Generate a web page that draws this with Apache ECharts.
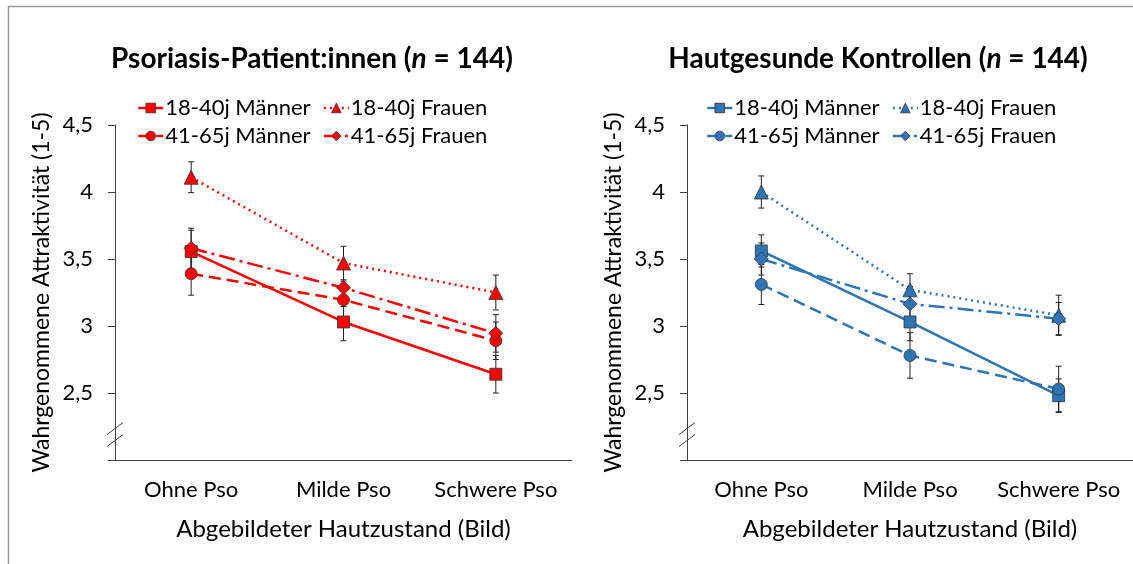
<!DOCTYPE html>
<html>
<head>
<meta charset="utf-8">
<script src="https://cdn.jsdelivr.net/npm/echarts@6/dist/echarts.min.js"></script>
<style>
  html, body { margin: 0; padding: 0; background: #fff; }
  #chart { width: 1133px; height: 564px; }
</style>
</head>
<body>
<div id="chart"></div>
<script>
const categories = ["Ohne Pso", "Milde Pso", "Schwere Pso"];
const groupNames = ["18-40j Männer", "18-40j Frauen", "41-65j Männer", "41-65j Frauen"];

// Psoriasis-Patient:innen: Mittelwerte und Fehlerbalken (halbe Länge)
const psoM18 = [3.555, 3.03, 2.64];
const psoF18 = [4.11, 3.47, 3.25];
const psoM41 = [3.39, 3.195, 2.89];
const psoF41 = [3.58, 3.285, 2.945];
const psoErrM18 = [0.16, 0.14, 0.14];
const psoErrF18 = [0.115, 0.125, 0.13];
const psoErrM41 = [0.16, 0.14, 0.14];
const psoErrF41 = [0.15, 0.14, 0.14];

// Hautgesunde Kontrollen
const ctlM18 = [3.56, 3.03, 2.48];
const ctlF18 = [4.0, 3.27, 3.08];
const ctlM41 = [3.31, 2.78, 2.53];
const ctlF41 = [3.5, 3.165, 3.055];
const ctlErrM18 = [0.12, 0.14, 0.125];
const ctlErrF18 = [0.12, 0.12, 0.15];
const ctlErrM41 = [0.15, 0.17, 0.17];
const ctlErrF41 = [0.12, 0.13, 0.12];

const yTicks = [2, 2.5, 3, 3.5, 4, 4.5];

const font = "Lato";
const red = "#ff0000";
const blue = "#2e75b6";
const axisColor = "#404040";

const symbols = ["rect", "triangle", "circle", "diamond"];
const symbolSizes = [12, 14, 12, 14];
const lineTypes = ["solid", [2, 4], [12, 6], [16, 5, 3, 5]];

const grids = [
  { left: 115, top: 125, width: 457, height: 335 },
  { left: 687, top: 125, width: 451, height: 335 }
];

function makeXAxis(i) {
  return {
    type: "category",
    gridIndex: i,
    data: categories,
    name: "Abgebildeter Hautzustand (Bild)",
    nameLocation: "middle",
    nameGap: 57,
    nameTextStyle: { fontFamily: font, fontSize: 24, color: "#000" },
    axisLine: { lineStyle: { color: axisColor, width: 1 } },
    axisTick: { length: 7, lineStyle: { color: axisColor } },
    axisLabel: { interval: 0, fontFamily: font, fontSize: 22, color: "#000", margin: 19 }
  };
}

function makeYAxis(i) {
  return {
    type: "value",
    gridIndex: i,
    min: yTicks[0],
    max: yTicks[yTicks.length - 1],
    interval: 0.5,
    name: "Wahrgenommene Attraktivität (1-5)",
    nameLocation: "middle",
    nameGap: 62,
    nameTextStyle: { fontFamily: font, fontSize: 23, color: "#000" },
    splitLine: { show: false },
    axisLine: { show: true, lineStyle: { color: axisColor, width: 1 } },
    axisTick: { show: true, length: 7, lineStyle: { color: axisColor } },
    axisLabel: {
      fontFamily: font,
      fontSize: 22,
      color: "#000",
      margin: 22,
      formatter: function (v) {
        return v === yTicks[0] ? "" : String(v).replace(".", ",");
      }
    }
  };
}

function errorSeries(i, means, errs) {
  return {
    type: "custom",
    xAxisIndex: i,
    yAxisIndex: i,
    z: 1,
    silent: true,
    encode: { x: 0, y: [1, 2] },
    data: means.map(function (m, k) {
      return [k, m - errs[k], m + errs[k]];
    }),
    renderItem: function (params, api) {
      const lo = api.coord([api.value(0), api.value(1)]);
      const hi = api.coord([api.value(0), api.value(2)]);
      const cap = 3;
      const style = { stroke: "#222", lineWidth: 1 };
      return {
        type: "group",
        children: [
          { type: "line", shape: { x1: lo[0], y1: lo[1], x2: hi[0], y2: hi[1] }, style: style },
          { type: "line", shape: { x1: lo[0] - cap, y1: lo[1], x2: lo[0] + cap, y2: lo[1] }, style: style },
          { type: "line", shape: { x1: hi[0] - cap, y1: hi[1], x2: hi[0] + cap, y2: hi[1] }, style: style }
        ]
      };
    }
  };
}

function lineSeries(i, k, means, color) {
  return {
    name: groupNames[k],
    type: "line",
    xAxisIndex: i,
    yAxisIndex: i,
    z: 3,
    data: means,
    symbol: symbols[k],
    symbolSize: symbolSizes[k],
    showAllSymbol: true,
    lineStyle: { color: color, width: 2.5, type: lineTypes[k] },
    itemStyle: { color: color, borderColor: "#333", borderWidth: 0.8 },
    emphasis: { disabled: true }
  };
}

const panels = [
  { means: [psoM18, psoF18, psoM41, psoF41], errs: [psoErrM18, psoErrF18, psoErrM41, psoErrF41], color: red },
  { means: [ctlM18, ctlF18, ctlM41, ctlF41], errs: [ctlErrM18, ctlErrF18, ctlErrM41, ctlErrF41], color: blue }
];

const series = [];
panels.forEach(function (p, i) {
  p.means.forEach(function (m, k) {
    series.push(errorSeries(i, m, p.errs[k]));
  });
  p.means.forEach(function (m, k) {
    series.push(lineSeries(i, k, m, p.color));
  });
});

// zwei Legendenzeilen je Tafel; Farbe/Linie pro Eintrag aus der Tafel
function legendRow(p, left, top, names) {
  return {
    left: left,
    top: top,
    orient: "horizontal",
    itemWidth: 25,
    itemHeight: 12,
    itemGap: 12,
    selectedMode: false,
    textStyle: { fontFamily: font, fontSize: 22, color: "#000", padding: [0, 0, 0, -3] },
    data: names.map(function (n) {
      const k = groupNames.indexOf(n);
      return {
        name: n,
        itemStyle: { color: p.color, borderColor: "#333", borderWidth: 0.8 },
        lineStyle: { color: p.color, width: 2.5, type: lineTypes[k] }
      };
    })
  };
}

function titleText(main) {
  return {
    text: "{b|" + main + " (}{i|n}{b| = 144)}",
    textStyle: {
      rich: {
        b: { fontFamily: font, fontSize: 28, fontWeight: "bold", color: "#000" },
        i: { fontFamily: font, fontSize: 28, fontWeight: "bold", fontStyle: "italic", color: "#000" }
      }
    }
  };
}

const option = {
  backgroundColor: "#fff",
  animation: false,
  title: [
    Object.assign({ left: 307, top: 40, textAlign: "center" }, titleText("Psoriasis-Patient:innen")),
    Object.assign({ left: 873, top: 40, textAlign: "center" }, titleText("Hautgesunde Kontrollen"))
  ],
  legend: [
    legendRow(panels[0], 132, 92, [groupNames[0], groupNames[1]]),
    legendRow(panels[0], 132, 120, [groupNames[2], groupNames[3]]),
    legendRow(panels[1], 701, 92, [groupNames[0], groupNames[1]]),
    legendRow(panels[1], 701, 120, [groupNames[2], groupNames[3]])
  ],
  grid: grids,
  xAxis: [makeXAxis(0), makeXAxis(1)],
  yAxis: [makeYAxis(0), makeYAxis(1)],
  series: series
};

const chart = echarts.init(document.getElementById("chart"), null, { renderer: "canvas" });
chart.setOption(option);

// Achsenbruch-Zeichen "//" an beiden y-Achsen und Rahmen
const extraGraphics = [];
grids.forEach(function (g, i) {
  const yc = chart.convertToPixel({ yAxisIndex: i }, 2.19);
  const x = g.left;
  [-6, 6].forEach(function (dy) {
    extraGraphics.push({
      type: "line",
      shape: { x1: x - 8, y1: yc + dy + 6, x2: x + 8, y2: yc + dy - 6 },
      style: { stroke: axisColor, lineWidth: 1 },
      silent: true
    });
  });
});
extraGraphics.push({
  type: "rect",
  shape: { x: 8.5, y: 6.5, width: 1200, height: 700 },
  style: { fill: null, stroke: "#9a9a9a", lineWidth: 1.5 },
  silent: true,
  z: -1
});

chart.setOption({ graphic: extraGraphics });
</script>
</body>
</html>
